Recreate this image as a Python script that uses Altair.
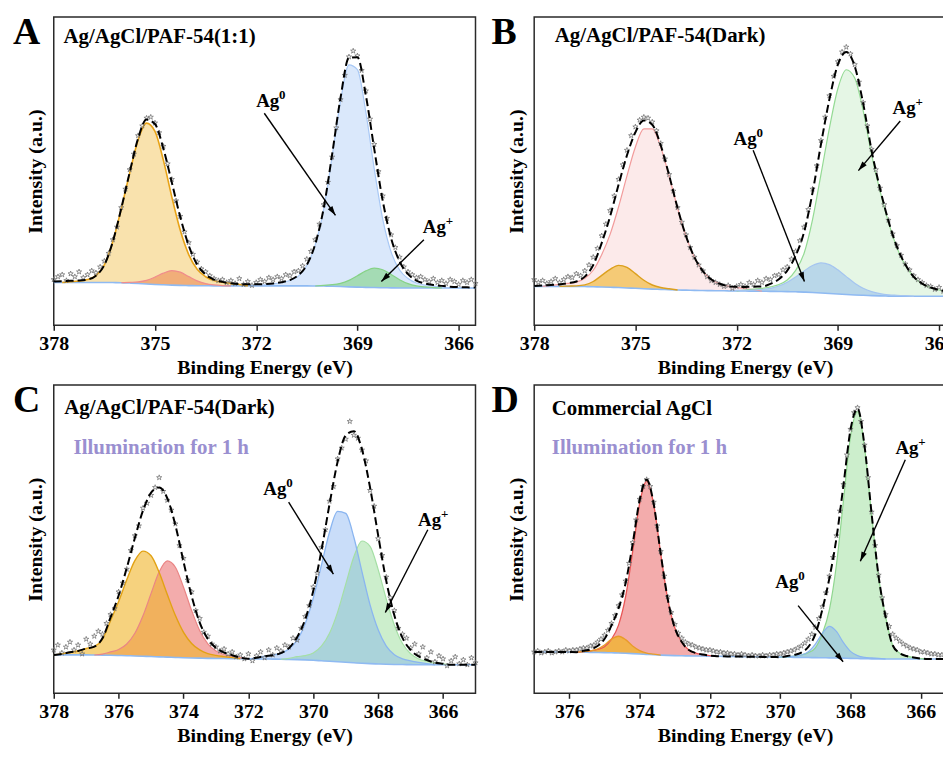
import math
import altair as alt
import pandas as pd

FONT = "Liberation Serif"
W, H = 424, 310

YEL, RED, BLU, GRN = "#f0b428", "#e85a5a", "#78aaf0", "#6ecd6e"
PURPLE = "#9a8fd0"
STAR = "M0,-1L0.2245,-0.309L0.951,-0.309L0.363,0.118L0.588,0.809L0,0.382L-0.588,0.809L-0.363,0.118L-0.951,-0.309L-0.2245,-0.309Z"
HEAD = "M0,0L0.6,2L-0.6,2Z"

# ---------------- Panel A : Ag/AgCl/PAF-54(1:1) ----------------
A_BG = [44.0, 44.0, 44.0, 44.0, 44.0, 44.0, 44.0, 43.9, 43.7, 43.4, 43.0, 42.5, 42.0, 41.6, 41.3, 41.0,
        40.8, 40.7, 40.6, 40.5, 40.5, 40.5, 40.5, 40.5, 40.5, 40.5, 40.5, 40.5, 40.5, 40.5, 40.5, 40.4,
        40.3, 40.1, 39.8, 39.5, 39.2, 39.0, 38.8, 38.6, 38.5, 38.4, 38.4, 38.4, 38.4, 38.4, 38.4, 38.4,
        38.4, 38.4, 38.4]
A_ENV = [45.0, 45.3, 45.8, 46.0, 47.0, 51.0, 62.0, 86.0, 120.0, 157.1, 192.1, 211.5, 206.9, 181.5, 146.7,
         111.2, 82.0, 62.5, 52.2, 47.0, 44.6, 43.1, 42.3, 42.2, 42.2, 42.4, 43.0, 44.3, 46.5, 51.5, 62.0,
         83.5, 120.3, 175.5, 234.0, 275.0, 275.5, 236.4, 181.0, 128.1, 89.4, 65.7, 52.5, 46.0, 43.0, 41.5,
         40.5, 39.6, 39.2, 39.0, 38.9]
A_SC = [47, 50, 52, 46, 53, 50, 55, 49, 52, 56, 54, 60, 66, 74, 88, 101, 121, 140, 160, 176,
        195, 205, 213, 214, 208, 198, 184, 166, 150, 128, 112, 96, 85, 73, 65, 58, 55, 51, 48, 46,
        47, 44, 46, 43, 48, 42, 45, 41, 44, 47, 45, 49, 47, 50, 48, 52, 51, 55, 56, 61,
        68, 76, 88, 104, 124, 147, 173, 203, 232, 257, 276, 282, 277, 262, 241, 212, 186, 158, 133, 110,
        93, 80, 70, 60, 55, 52, 49, 50, 47, 45, 48, 44, 46, 43, 47, 45, 42, 46, 44, 47, 43]
A_RED = (376.0, [0, 0.7, 1.6, 3.7, 7.5, 12.0, 14.9, 13.6, 9.3, 5.0, 2.3, 1.0, 0.3, 0])
A_YEL = (377.75, [0, 0.8, 1.6, 3.0, 7.0, 18.0, 42.0, 75.9, 113.0, 147.5, 165.3, 157.4, 127.9, 90.5, 56.6,
                  31.9, 16.8, 9.3, 5.5, 3.8, 2.6, 1.5, 0])
A_BLU = (372.0, [0, 1.0, 2.0, 3.5, 5.5, 10.0, 20.9, 42.2, 78.9, 133.4, 190.7, 228.3, 223.6, 180.0, 121.8,
                 70.5, 36.7, 18.4, 9.7, 5.0, 3.0, 1.8, 1.0, 0])
A_GRN = (370.25, [0, 0.8, 1.6, 3.3, 6.7, 11.7, 16.9, 19.9, 18.5, 13.8, 8.5, 4.4, 2.1, 1.0, 0.4, 0])

# ---------------- Panel B : Ag/AgCl/PAF-54(Dark) ----------------
B_BG = [40.0, 40.0, 40.0, 40.0, 40.0, 39.9, 39.8, 39.6, 39.4, 39.1, 38.8, 38.4, 38.0, 37.6, 37.2, 36.9,
        36.6, 36.3, 36.1, 35.9, 35.7, 35.6, 35.5, 35.4, 35.3, 35.2, 35.1, 35.0, 34.9, 34.8, 34.6, 34.4,
        34.1, 33.7, 33.2, 32.7, 32.2, 31.7, 31.2, 30.8, 30.5, 30.2, 30.0, 29.9, 29.8, 29.8, 29.8, 29.8,
        29.8, 29.8, 29.8]
B_ENV = [40.5, 41.0, 41.5, 42.0, 43.3, 45.0, 50.0, 62.0, 84.5, 111.9, 144.4, 174.8, 198.4, 210.6, 206.1,
         185.1, 154.1, 120.5, 91.7, 69.8, 55.7, 47.1, 42.7, 40.2, 39.5, 39.4, 39.7, 39.8, 42.5, 47.4, 56.2,
         71.7, 95.9, 136.4, 186.1, 232.4, 268.0, 281.0, 266.3, 228.1, 179.6, 140.5, 107.3, 80.8, 62.4, 49.8,
         42.8, 38.8, 36.3, 34.8, 33.8]
B_SC = [47, 44, 46, 43, 45, 48, 44, 47, 50, 49, 53, 51, 56, 62, 70, 79, 92, 104, 118, 133,
        150, 165, 180, 195, 204, 211, 214, 213, 209, 200, 187, 171, 155, 138, 121, 106, 93, 80, 70, 62,
        56, 50, 46, 44, 42, 40, 41, 38, 40, 42, 40, 44, 42, 46, 44, 48, 47, 51, 52, 57,
        60, 68, 76, 87, 101, 119, 140, 164, 190, 214, 236, 256, 271, 281, 286, 279, 268, 250, 229, 205,
        181, 160, 141, 124, 108, 94, 82, 72, 63, 57, 51, 47, 44, 41, 40, 37, 39, 35, 37, 34, 36]
B_RED = (377.75, [0, 1.0, 2.0, 3.0, 4.5, 8.5, 17.0, 33.2, 54.4, 82.8, 115.2, 145.3, 164.3, 164.7, 146.3,
                  116.6, 84.2, 55.6, 33.9, 20.0, 11.5, 7.2, 4.8, 3.6, 2.5, 1.5, 0])
B_YEL = (377.25, [0, 0.3, 0.6, 1.7, 5.4, 11.9, 18.4, 22.8, 21.2, 15.1, 8.7, 4.2, 1.9, 0.9, 0])
B_GRN = (372.0, [0, 1.0, 2.0, 3.0, 4.5, 7.0, 12.0, 22.0, 40.0, 75.0, 122.0, 170.0, 211.0, 231.0, 223.0,
                 190.0, 145.0, 108.0, 76.0, 50.0, 32.0, 20.0, 13.0, 9.0, 6.5, 5.0, 4.0])
B_BLU = (372.25, [0, 0.6, 0.7, 1.1, 1.8, 3.1, 5.6, 9.6, 15.3, 21.8, 27.7, 30.9, 29.7, 24.8, 18.3, 12.1,
                  7.3, 4.1, 2.3, 1.3, 0.9, 0.6, 0])

# ---------------- Panel C : Ag/AgCl/PAF-54(Dark), illuminated ----------------
C_BG = [39.0, 39.0, 39.0, 39.0, 39.0, 38.9, 38.8, 38.6, 38.4, 38.2, 37.9, 37.6, 37.3, 37.0, 36.7, 36.4,
        36.1, 35.9, 35.7, 35.5, 35.4, 35.3, 35.2, 35.1, 35.0, 34.9, 34.8, 34.7, 34.6, 34.4, 34.2, 33.9,
        33.5, 33.0, 32.5, 32.0, 31.5, 31.0, 30.5, 30.1, 29.8, 29.5, 29.3, 29.2, 29.1, 29.0, 29.0, 29.0,
        29.0, 29.0, 29.0, 29.0, 29.0]
C_ENV = [39.0, 40.0, 41.7, 43.0, 45.5, 47.4, 55.8, 77.1, 99.3, 127.2, 157.7, 185.4, 203.7, 208.9, 198.0,
         170.5, 133.5, 98.7, 71.8, 55.1, 46.1, 41.4, 38.7, 36.3, 35.0, 36.1, 37.7, 38.7, 40.8, 45.9, 57.0,
         75.0, 104.2, 144.8, 191.9, 235.1, 261.9, 266.0, 247.6, 208.9, 160.3, 114.0, 79.0, 56.2, 44.0, 37.4,
         33.8, 31.2, 30.0, 29.0, 29.0, 29.0, 29.0]
C_SC = [44, 49, 41, 47, 52, 44, 49, 40, 55, 50, 58, 63, 60, 71, 80, 86, 103, 112, 126, 145,
        160, 170, 188, 193, 201, 209, 219, 205, 196, 186, 172, 150, 137, 115, 103, 84, 76, 62, 58, 50,
        47, 43, 45, 40, 42, 37, 39, 35, 40, 33, 38, 42, 36, 44, 39, 46, 43, 49, 47, 56,
        54, 66, 78, 89, 108, 122, 148, 166, 195, 210, 238, 249, 258, 276, 262, 259, 247, 236, 206, 190,
        157, 140, 118, 97, 84, 66, 60, 56, 46, 50, 40, 47, 36, 42, 32, 38, 35, 28, 33, 37,
        30, 34, 29, 36, 31]
C_RED = (376.75, [0, 1.0, 3.4, 6.1, 11.9, 23.0, 41.1, 64.1, 86.3, 97.7, 91.6, 71.6, 48.1, 27.8, 14.8, 7.6,
                  4.1, 2.5, 1.2, 0])
C_YEL = (378.0, [0, 1.0, 2.7, 4.0, 6.5, 8.5, 16.0, 35.1, 54.8, 77.1, 96.8, 106.7, 102.3, 85.6, 63.6, 42.5,
                 25.8, 14.7, 8.3, 4.8, 3.1, 2.0, 1.0, 0])
C_GRN = (371.0, [0, 1.0, 3.0, 4.4, 7.5, 14.8, 28.4, 50.4, 79.3, 107.6, 124.1, 119.1, 95.8, 66.1, 39.8, 21.3,
                 11.0, 5.9, 3.6, 2.2, 1.0, 0])
C_BLU = (372.0, [0, 1.2, 2.9, 4.0, 6.2, 10.5, 19.8, 36.7, 63.2, 97.0, 131.0, 152.7, 151.1, 127.4, 93.0, 59.7,
                 34.7, 18.4, 9.9, 5.7, 3.9, 2.5, 1.2, 0])

# ---------------- Panel D : Commercial AgCl, illuminated ----------------
D_BG = [42.0, 42.0, 42.0, 42.0, 42.0, 41.9, 41.8, 41.7, 41.6, 41.5, 41.3, 41.1, 40.9, 40.6, 40.3, 39.9,
        39.5, 39.1, 38.8, 38.5, 38.3, 38.1, 38.0, 37.9, 37.8, 37.7, 37.6, 37.5, 37.4, 37.3, 37.2, 37.1,
        37.0, 36.9, 36.8, 36.7, 36.6, 36.5, 36.4, 36.3, 36.2, 36.1, 36.0, 35.9, 35.7, 35.5, 35.3, 35.1,
        35.0, 34.9, 34.8, 34.8, 34.8, 34.8, 34.8, 34.8, 34.8, 34.8, 34.8, 34.8, 34.8]
D_ENV = [42.0, 42.0, 42.0, 42.0, 42.0, 41.9, 41.8, 43.1, 44.5, 48.0, 55.1, 68.9, 86.2, 111.7, 151.1, 196.0,
         216.9, 192.4, 141.8, 95.7, 66.6, 52.0, 44.0, 40.9, 39.3, 38.3, 37.6, 37.5, 37.4, 37.3, 37.2, 37.1,
         37.0, 36.9, 36.8, 36.7, 37.9, 39.0, 41.4, 47.2, 60.0, 85.2, 116.9, 157.4, 211.3, 267.5, 289.0,
         250.9, 182.5, 118.7, 77.5, 48.8, 40.8, 37.8, 36.3, 35.3, 34.8, 34.8, 34.8, 34.8, 34.8]
D_SC = [42, 43, 41, 42, 43, 41, 42, 43, 42, 44, 43, 44, 44, 45, 46, 46, 48, 49, 52, 55,
        59, 64, 71, 79, 89, 100, 114, 132, 153, 176, 197, 210, 217, 210, 194, 170, 144, 119, 98, 82,
        70, 61, 56, 52, 50, 49, 47, 46, 45, 44, 44, 43, 42, 42, 41, 41, 40, 40, 39, 40,
        39, 38, 39, 38, 38, 39, 38, 39, 39, 40, 40, 41, 42, 43, 44, 46, 48, 51, 55, 60,
        67, 76, 88, 102, 119, 138, 160, 185, 212, 242, 268, 285, 290, 276, 252, 219, 184, 150, 120, 97,
        80, 68, 60, 56, 53, 50, 48, 46, 45, 44, 42, 42, 41, 40, 40, 39, 39, 38, 38, 37, 37]
D_RED = (375.8, [0, 0.7, 1.5, 3.0, 6.0, 13.9, 28.3, 57.2, 103.0, 152.6, 176.0, 152.6, 103.0, 57.2, 28.3,
                 13.9, 6.0, 3.0, 1.5, 0.6, 0])
D_YEL = (375.8, [0, 0.7, 1.4, 3.5, 7.8, 13.9, 17.0, 13.9, 7.8, 3.5, 1.4, 0.7, 0])
D_GRN = (370.0, [0, 0.5, 1.2, 2.5, 5.0, 10.0, 24.3, 49.0, 94.6, 159.9, 224.9, 250.7, 214.4, 146.6, 83.3,
                 42.7, 14.0, 6.0, 3.0, 1.5, 0.5, 0])
D_BLU = (370.0, [0, 0.8, 1.3, 2.5, 5.9, 13.8, 24.8, 31.9, 26.9, 15.7, 7.1, 3.0, 1.4, 0.9, 0.5, 0])

PANELS = [
    dict(letter="A", dx=-41, E0=378.0, step=0.25, sc_step=0.125, bg=A_BG, env=A_ENV, sc=A_SC,
         xdom=[365.5, 378], ydom=[0, 317], ticks=[378, 375, 372, 369, 366],
         comps=[(A_RED, RED, 0.5, "#f08c8c", 1.2), (A_YEL, YEL, 0.38, "#e8a317", 1.6),
                (A_BLU, BLU, 0.27, "#a8c8f5", 1.2), (A_GRN, GRN, 0.5, "#86d286", 1.2)],
         texts=[("Ag/AgCl/PAF-54(1:1)", 377.71, 290, 21, "#000")],
         ions=[("0", 372.0, 224), ("+", 367.06, 95)],
         arrows=[(371.76, 218, 369.65, 113), (367.03, 88, 368.29, 45)]),
    dict(letter="B", dx=-43, E0=378.0, step=0.25, sc_step=0.125, bg=B_BG, env=B_ENV, sc=B_SC,
         xdom=[365.5, 378], ydom=[0, 317], ticks=[378, 375, 372, 369, 366],
         comps=[(B_RED, RED, 0.13, "#f29b9b", 1.2), (B_YEL, YEL, 0.6, "#dca01e", 1.4),
                (B_GRN, GRN, 0.18, "#94da94", 1.2), (B_BLU, BLU, 0.4, "#a5c5f0", 1.2)],
         texts=[("Ag/AgCl/PAF-54(Dark)", 377.39, 291, 21, "#000")],
         ions=[("0", 372.09, 185), ("+", 367.38, 217)],
         arrows=[(371.51, 180, 369.99, 45), (367.15, 210, 368.39, 159)]),
    dict(letter="C", dx=-41, E0=378.0, step=0.25, sc_step=0.125, bg=C_BG, env=C_ENV, sc=C_SC,
         xdom=[365, 378], ydom=[0, 313], ticks=[378, 376, 374, 372, 370, 368, 366],
         comps=[(C_RED, RED, 0.5, "#ea8585", 1.2), (C_YEL, YEL, 0.6, "#e2a214", 1.4),
                (C_GRN, GRN, 0.35, "#a5dfa5", 1.2), (C_BLU, BLU, 0.4, "#8ab5f0", 1.3)],
         texts=[("Ag/AgCl/PAF-54(Dark)", 377.68, 284, 21, "#000"),
                ("Illumination for 1 h", 377.39, 243, 21, PURPLE)],
         ions=[("0", 371.54, 201), ("+", 366.77, 170)],
         arrows=[(370.76, 194, 369.38, 121), (366.47, 166, 367.78, 82)]),
    dict(letter="D", dx=-43, E0=377.0, step=0.2, sc_step=0.1, bg=D_BG, env=D_ENV, sc=D_SC,
         xdom=[365, 377], ydom=[0, 313], ticks=[376, 374, 372, 370, 368, 366],
         comps=[(D_RED, RED, 0.5, "#e85555", 1.3), (D_YEL, YEL, 0.75, "#e89b2a", 1.3),
                (D_GRN, GRN, 0.35, "#8fd68f", 1.2), (D_BLU, BLU, 0.42, "#8ab5f0", 1.2)],
         texts=[("Commercial AgCl", 376.5, 283, 21, "#000"),
                ("Illumination for 1 h", 376.5, 243, 21, PURPLE)],
         ions=[("+", 366.72, 243), ("0", 370.14, 107)],
         arrows=[(366.44, 237, 367.72, 134), (369.49, 89, 368.21, 32)]),
]


def seq(start, step, values):
    return [(round(start - step * i, 3), v) for i, v in enumerate(values)]


def build(p):
    n_grid = round((p["xdom"][1] - p["xdom"][0]) / p["step"]) + 1
    for name in ("bg", "env"):
        if len(p[name]) != n_grid:
            raise ValueError(f"{p['letter']} {name}: {len(p[name])} != {n_grid}")
    n_sc = round((p["xdom"][1] - p["xdom"][0]) / p["sc_step"]) + 1
    if len(p["sc"]) != n_sc:
        raise ValueError(f"{p['letter']} scatter: {len(p['sc'])} != {n_sc}")

    xs = alt.Scale(domain=p["xdom"], reverse=True, nice=False, zero=False)
    ys = alt.Scale(domain=p["ydom"], nice=False, zero=False)
    xaxis = alt.Axis(values=p["ticks"], format="d", grid=False, domain=False, tickSize=5, tickWidth=1.5,
                     tickColor="#222", labelFont=FONT, labelFontSize=20, labelFontWeight="bold",
                     labelColor="#000", labelPadding=3, labelFlush=False, title="Binding Energy (eV)",
                     titleFont=FONT, titleFontSize=20, titleFontWeight="bold", titleColor="#000",
                     titlePadding=4)
    yaxis = alt.Axis(grid=False, domain=False, ticks=False, labels=False, title="Intensity (a.u.)",
                     titleFont=FONT, titleFontSize=20, titleFontWeight="bold", titleColor="#000",
                     titlePadding=8)
    X = alt.X("E:Q", scale=xs, axis=xaxis)
    Y = alt.Y("h:Q", scale=ys, axis=yaxis)

    grid = [e for e, _ in seq(p["E0"], p["step"], p["bg"])]
    bgmap = dict(zip(grid, p["bg"]))

    layers = []
    comp_frames = []
    for (start, vals), fill, op, stroke, sw in p["comps"]:
        rows = [{"E": e, "h": bgmap[e] + v, "b": bgmap[e]} for e, v in seq(start, p["step"], vals)]
        df = pd.DataFrame(rows)
        comp_frames.append((df, stroke, sw))
        layers.append(alt.Chart(df).mark_area(color=fill, fillOpacity=op, interpolate="monotone",
                                              strokeWidth=0).encode(x=X, y=Y, y2=alt.Y2("b")))
    bg_df = pd.DataFrame({"E": grid, "h": p["bg"]})
    layers.append(alt.Chart(bg_df).mark_line(color="#8fbaf2", strokeWidth=1.6, interpolate="monotone")
                  .encode(x=X, y=Y))
    for df, stroke, sw in comp_frames:
        layers.append(alt.Chart(df).mark_line(color=stroke, strokeWidth=sw, interpolate="monotone")
                      .encode(x=X, y=Y))
    sc_df = pd.DataFrame(seq(p["E0"], p["sc_step"], p["sc"]), columns=["E", "h"])
    layers.append(alt.Chart(sc_df).mark_point(shape=STAR, size=30, filled=False, color="#6e6e6e",
                                              strokeWidth=0.75, opacity=1).encode(x=X, y=Y))
    env_df = pd.DataFrame({"E": grid, "h": p["env"]})
    layers.append(alt.Chart(env_df).mark_line(color="#000", strokeWidth=2, strokeDash=[8, 4],
                                              interpolate="monotone").encode(x=X, y=Y))

    for text, e, h, size, color in p["texts"]:
        tdf = pd.DataFrame({"E": [e], "h": [h], "t": [text]})
        layers.append(alt.Chart(tdf).mark_text(align="left", baseline="alphabetic", font=FONT,
                                               fontSize=size, fontWeight="bold", color=color)
                      .encode(x=X, y=Y, text="t:N"))
    for sup, e, h in p["ions"]:
        tdf = pd.DataFrame({"E": [e], "h": [h], "t": ["Ag"], "s": [sup]})
        layers.append(alt.Chart(tdf).mark_text(align="left", baseline="alphabetic", font=FONT,
                                               fontSize=19, fontWeight="bold", color="#000")
                      .encode(x=X, y=Y, text="t:N"))
        layers.append(alt.Chart(tdf).mark_text(align="left", baseline="alphabetic", font=FONT,
                                               fontSize=13, fontWeight="bold", color="#000", dx=23, dy=-8)
                      .encode(x=X, y=Y, text="s:N"))

    kx = W / (p["xdom"][1] - p["xdom"][0])
    ky = H / (p["ydom"][1] - p["ydom"][0])
    arows = []
    for e1, h1, e2, h2 in p["arrows"]:
        dxp = -(e2 - e1) * kx
        dyp = -(h2 - h1) * ky
        ang = math.degrees(math.atan2(dxp, -dyp)) % 360
        arows.append({"E": e1, "h": h1, "E2": e2, "h2": h2, "ang": ang})
    adf = pd.DataFrame(arows)
    layers.append(alt.Chart(adf).mark_rule(color="#000", strokeWidth=1.4)
                  .encode(x=X, y=Y, x2=alt.X2("E2"), y2=alt.Y2("h2")))
    layers.append(alt.Chart(adf).mark_point(shape=HEAD, size=90, filled=True, color="#000", opacity=1,
                                            strokeWidth=0)
                  .encode(x=alt.X("E2:Q", scale=xs, axis=xaxis), y=alt.Y("h2:Q", scale=ys, axis=yaxis),
                          angle=alt.Angle("ang:Q", scale=None)))

    # panel letter, placed just left of the frame's top-left corner
    ldf = pd.DataFrame({"t": [p["letter"]]})
    layers.append(alt.Chart(ldf).mark_text(align="left", baseline="alphabetic", font=FONT, fontSize=38,
                                           fontWeight="bold", color="#000")
                  .encode(x=alt.value(p["dx"]), y=alt.value(27), text="t:N"))

    return alt.layer(*layers).properties(width=W, height=H)


charts = [build(p) for p in PANELS]
chart = alt.concat(*charts, columns=2, spacing={"row": 60, "column": 59}, bounds="flush").properties(
    padding={"left": 4, "top": 3, "right": -18, "bottom": -1}
).configure_view(stroke="#2a2a2a", strokeWidth=1.5)

chart.save("out.html", embed_options={"renderer": "svg", "actions": False})
